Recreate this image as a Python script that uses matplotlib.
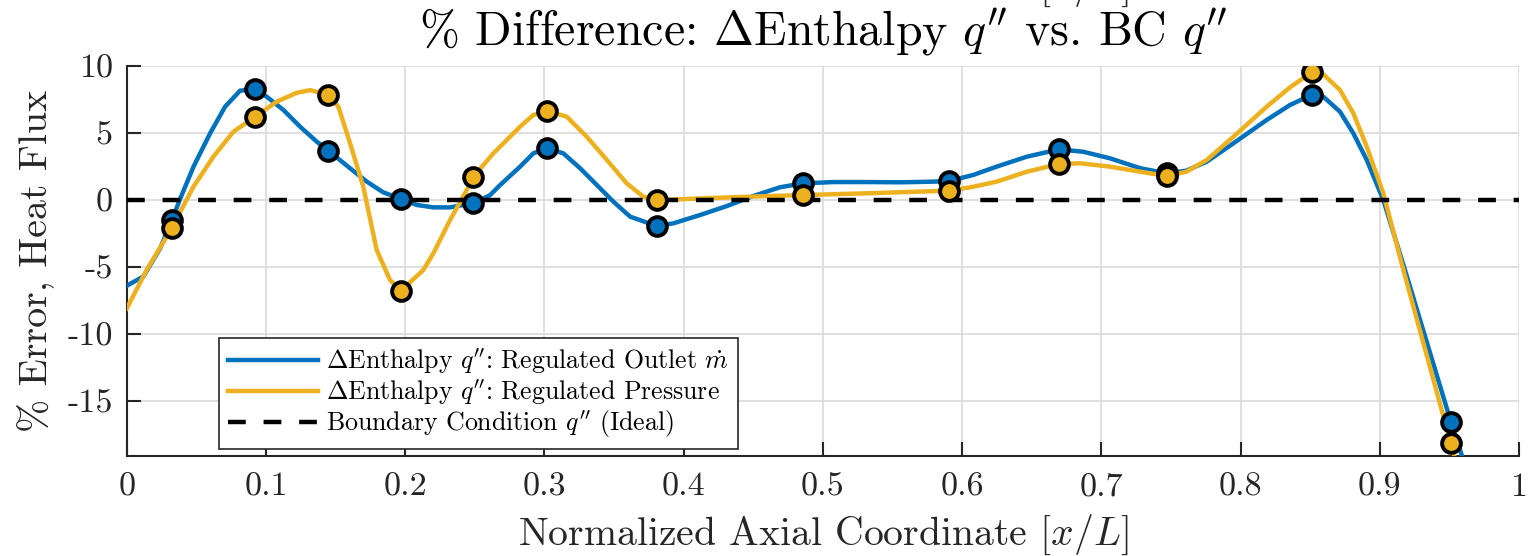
import matplotlib
matplotlib.use("Agg")
import matplotlib.pyplot as plt

# Computer Modern look for all text
plt.rcParams["font.family"] = "serif"
plt.rcParams["font.serif"] = ["cmr10"]
plt.rcParams["mathtext.fontset"] = "cm"
plt.rcParams["axes.unicode_minus"] = False
plt.rcParams["axes.formatter.use_mathtext"] = True

BLUE = "#0072BD"
ORANGE = "#EDB120"
DARK = "#262626"

# sampled points of the fitted curves
curve_x_mdot = [0.0, 0.012, 0.024, 0.0325, 0.038, 0.048, 0.060, 0.0706, 0.0814, 0.0923,
                0.1005, 0.1125, 0.1245, 0.1365, 0.1448, 0.1604, 0.1724, 0.1843, 0.197, 0.2083,
                0.2202, 0.232, 0.249, 0.261, 0.268, 0.2825, 0.292, 0.302, 0.3136, 0.3256,
                0.3376, 0.3495, 0.3615, 0.3806, 0.3926, 0.4118, 0.431, 0.450, 0.4692, 0.4855,
                0.5075, 0.5315, 0.5554, 0.5794, 0.5908, 0.608, 0.6248, 0.6464, 0.6696, 0.687,
                0.7062, 0.728, 0.747, 0.761, 0.7757, 0.7948, 0.8187, 0.8355, 0.851, 0.8594,
                0.8714, 0.881, 0.8906, 0.9025, 0.918, 0.951, 0.965]
curve_y_mdot = [-6.4, -5.7, -3.6, -1.5, 0.0, 2.5, 5.0, 6.96, 8.16, 8.26,
                7.71, 6.72, 5.47, 4.35, 3.68, 2.37, 1.37, 0.57, 0.07, -0.37,
                -0.55, -0.55, -0.25, 0.37, 1.1, 2.49, 3.48, 3.86, 3.48, 2.37,
                1.12, -0.12, -1.24, -1.94, -1.74, -1.12, -0.45, 0.30, 0.95, 1.24,
                1.34, 1.34, 1.32, 1.37, 1.42, 1.87, 2.49, 3.23, 3.78, 3.60,
                3.11, 2.37, 1.99, 2.19, 2.86, 4.23, 5.97, 7.09, 7.84, 7.71,
                6.59, 4.97, 2.99, 0.0, -5.2, -16.54, -21.0]

curve_x_pres = [0.0, 0.0144, 0.0325, 0.0479, 0.0622, 0.0766, 0.0923, 0.1077, 0.1221, 0.1317,
                0.1448, 0.152, 0.1604, 0.1699, 0.1795, 0.1891, 0.197, 0.213, 0.2202, 0.2322,
                0.2442, 0.249, 0.2633, 0.2825, 0.292, 0.302, 0.316, 0.3304, 0.3448, 0.3591,
                0.371, 0.3806, 0.4118, 0.4477, 0.4855, 0.5315, 0.5674, 0.5908, 0.608, 0.6248,
                0.6464, 0.6696, 0.6848, 0.7062, 0.728, 0.747, 0.761, 0.7757, 0.7948, 0.8187,
                0.8355, 0.851, 0.8594, 0.8714, 0.881, 0.8906, 0.9025, 0.9169, 0.951, 0.954]
curve_y_pres = [-8.09, -5.2, -2.07, 0.99, 3.23, 5.10, 6.22, 7.34, 8.0, 8.2,
                7.84, 6.96, 4.23, 0.99, -3.73, -5.97, -6.77, -5.22, -3.98, -1.49,
                0.75, 1.74, 3.48, 5.47, 6.34, 6.64, 6.22, 4.72, 2.99, 1.24,
                0.25, -0.02, 0.12, 0.25, 0.37, 0.50, 0.62, 0.70, 0.99, 1.37,
                2.11, 2.69, 2.74, 2.49, 2.11, 1.79, 2.11, 2.99, 4.72, 6.96,
                8.41, 9.53, 9.37, 8.21, 6.47, 3.98, 0.5, -5.22, -18.16, -19.3]

# measured points
meas_x = [0.0325, 0.0923, 0.1448, 0.197, 0.249, 0.302, 0.3806, 0.4855, 0.5908, 0.6696,
          0.747, 0.851, 0.951]
meas_mdot = [-1.5, 8.26, 3.68, 0.07, -0.25, 3.86, -1.94, 1.24, 1.42, 3.78, 1.99, 7.84, -16.54]
meas_pres = [-2.07, 6.22, 7.84, -6.77, 1.74, 6.64, -0.02, 0.37, 0.70, 2.69, 1.79, 9.53, -18.16]

ideal = 0.0

x_ticks = [0, 0.1, 0.2, 0.3, 0.4, 0.5, 0.6, 0.7, 0.8, 0.9, 1]
x_tick_labels = ["0", "0.1", "0.2", "0.3", "0.4", "0.5", "0.6", "0.7", "0.8", "0.9", "1"]
y_ticks = [-15, -10, -5, 0, 5, 10]
y_tick_labels = ["-15", "-10", "-5", "0", "5", "10"]

labels = [r"$\Delta$Enthalpy $q''$: Regulated Outlet $\dot{m}$",
          r"$\Delta$Enthalpy $q''$: Regulated Pressure",
          r"Boundary Condition $q''$ (Ideal)"]
xlabel = r"Normalized Axial Coordinate $[x/L]$"

fig = plt.figure(figsize=(15.29, 5.56), dpi=100)
ax = fig.add_axes([0.0829, 0.1799, 0.9106, 0.7014])

ax.plot(curve_x_mdot, curve_y_mdot, color=BLUE, lw=3.2, label=labels[0], zorder=3)
ax.plot(curve_x_pres, curve_y_pres, color=ORANGE, lw=3.2, label=labels[1], zorder=3)
ax.axhline(ideal, color="black", lw=3.2, ls=(0, (4.0, 4.0)), label=labels[2], zorder=4)
ax.plot(meas_x, meas_mdot, "o", ms=13.5, mfc=BLUE, mec="black", mew=2.8, zorder=5)
ax.plot(meas_x, meas_pres, "o", ms=13.5, mfc=ORANGE, mec="black", mew=2.8, zorder=6)

ax.set_xlim(0, 1)
ax.set_ylim(-19.1, 10)
ax.set_xticks(x_ticks)
ax.set_xticklabels(x_tick_labels)
ax.set_yticks(y_ticks)
ax.set_yticklabels(y_tick_labels)
ax.tick_params(direction="in", length=10, width=1.5, colors=DARK, labelsize=24.5, pad=12)
ax.tick_params(axis="y", pad=10)

ax.grid(True, color="#DCDCDC", lw=1.3)
ax.set_axisbelow(True)
for side in ["top", "right"]:
    ax.spines[side].set_visible(False)
for side in ["left", "bottom"]:
    ax.spines[side].set_color(DARK)
    ax.spines[side].set_linewidth(1.5)

ax.set_title(r"% Difference: $\Delta$Enthalpy $q''$ vs. BC $q''$", fontsize=34.5, pad=15)

ax.set_xlabel(xlabel, fontsize=28.6, color=DARK)
ax.xaxis.label.set_va("baseline")
ax.xaxis.set_label_coords(0.5, -0.2285)
ax.set_ylabel("% Error, Heat Flux", fontsize=28.8, color=DARK)
ax.yaxis.label.set_va("baseline")
ax.yaxis.set_label_coords(-0.0575, 0.5)

# bottom edge of the upper panel's x label
fig.text(0.5382, 1.0054, xlabel, fontsize=28.6, color=DARK, ha="center", va="baseline")

leg = ax.legend(loc="upper left", bbox_to_anchor=(0.0661, 0.3026), borderaxespad=0,
                fontsize=18.6, frameon=True, fancybox=False, framealpha=1,
                edgecolor=DARK, handlelength=3.5, handletextpad=0.3,
                labelspacing=0.05, borderpad=0.35)
leg.get_frame().set_linewidth(1.2)

fig.savefig("out.png", dpi=100)
